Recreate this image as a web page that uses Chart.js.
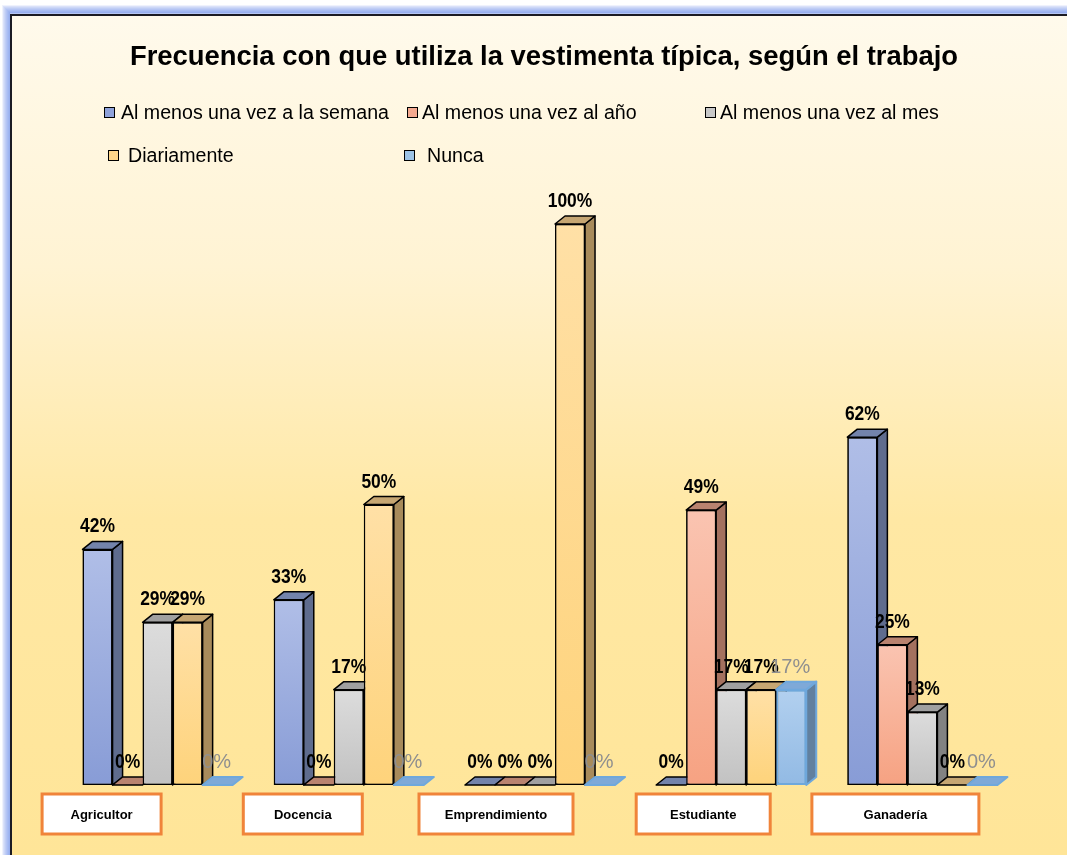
<!DOCTYPE html>
<html lang="es">
<head>
<meta charset="utf-8">
<title>Frecuencia con que utiliza la vestimenta típica</title>
<script src="https://cdn.jsdelivr.net/npm/chart.js@4.4.0/dist/chart.umd.min.js"></script>
<style>
  html, body { margin: 0; padding: 0; background: #fff; }
  canvas { display: block; }
</style>
</head>
<body>
<canvas id="graficoVestimenta" width="1067" height="855"></canvas>
<script>
// Datos (porcentajes)
const categorias = ['Agricultor', 'Docencia', 'Emprendimiento', 'Estudiante', 'Ganadería'];
const nombresSeries = [
    'Al menos una vez a la semana',
    'Al menos una vez al año',
    'Al menos una vez al mes',
    'Diariamente',
    'Nunca'
];
const semana = [42, 33, 0, 0, 62];
const anio = [0, 0, 0, 49, 25];
const mes = [29, 17, 0, 17, 13];
const diario = [29, 50, 100, 17, 0];
const nunca = [0, 0, 0, 17, 0];

// Colores de cada serie: frente (arriba/abajo), lado, tapa y borde
const estilos = [
    { arriba: '#B0BEE7', abajo: '#889CD6', lado: '#5F6C8E', tapa: '#7383AB', borde: '#000000', legenda: '#8FA2DA' },
    { arriba: '#FAC4B1', abajo: '#F6A282', lado: '#A4715F', tapa: '#B9836F', borde: '#000000', legenda: '#F5AA90' },
    { arriba: '#DCDCDC', abajo: '#C2C2C2', lado: '#828282', tapa: '#A0A0A0', borde: '#000000', legenda: '#C8C8C8' },
    { arriba: '#FFE0A6', abajo: '#FED37B', lado: '#A88B5B', tapa: '#C6A672', borde: '#000000', legenda: '#FFD68A' },
    { arriba: '#B2D0EF', abajo: '#92BAE4', lado: '#61809F', tapa: '#7EA9D8', borde: '#6FA8DC', legenda: '#9DC3E6' }
];

// Profundidad del efecto 3D
const PROF_X = 10;
const PROF_Y = 8;

// Posición de la leyenda: [x del cuadro, x del texto, y]
const posLeyenda = [[104, 121, 113], [407, 422, 113], [705, 720, 113], [108, 128, 156], [404, 427, 156]];
// Cajas de categoría: desplazamiento respecto al centro y ancho
const cajasCategoria = [
    { dx: -56, ancho: 119 },
    { dx: -46, ancho: 119 },
    { dx: -44, ancho: 154 },
    { dx: -28, ancho: 134 },
    { dx: -27, ancho: 167 }
];

// Degradado vertical propio de cada barra, calculado con la escala y
function degradadoBarra(context, est) {
    const chart = context.chart;
    if (!chart.chartArea || !chart.scales.y) return est.abajo;
    const escalaY = chart.scales.y;
    const tope = escalaY.getPixelForValue(context.raw);
    const base = escalaY.getPixelForValue(0);
    if (base - tope < 1) return est.abajo;
    const g = chart.ctx.createLinearGradient(0, tope, 0, base);
    g.addColorStop(0, est.arriba);
    g.addColorStop(1, est.abajo);
    return g;
}

// Fondo con marco
const pluginFondo = {
    id: 'fondo',
    beforeDraw(chart) {
        const ctx = chart.ctx;
        ctx.save();
        ctx.fillStyle = '#ffffff';
        ctx.fillRect(0, 0, chart.width, chart.height);
        // brillo azul alrededor del marco
        for (let i = 8; i >= 1; i--) {
            ctx.strokeStyle = `rgba(120, 150, 235, ${0.12 + (8 - i) * 0.06})`;
            ctx.lineWidth = 2;
            ctx.strokeRect(11 - i, 14 - i, chart.width + 40, chart.height + 40);
        }
        const g = ctx.createLinearGradient(0, 15, 0, chart.height);
        g.addColorStop(0, '#FFFAEC');
        g.addColorStop(0.3, '#FFF3D3');
        g.addColorStop(0.6, '#FFE8A4');
        g.addColorStop(1, '#FFE598');
        ctx.fillStyle = g;
        ctx.fillRect(11, 14, chart.width, chart.height);
        ctx.strokeStyle = '#1b1b24';
        ctx.lineWidth = 2;
        ctx.strokeRect(11, 15, chart.width + 20, chart.height + 20);
        ctx.restore();
    }
};

// Redibuja las barras de izquierda a derecha con sus caras lateral y superior
const plugin3D = {
    id: 'efecto3D',
    afterDatasetsDraw(chart) {
        const ctx = chart.ctx;
        ctx.save();
        ctx.lineJoin = 'round';
        chart.data.datasets.forEach((ds, i) => {
            const meta = chart.getDatasetMeta(i);
            const est = estilos[i];
            meta.data.forEach((barra) => {
                barra.draw(ctx);
                const { x, y, base, width } = barra.getProps(['x', 'y', 'base', 'width'], true);
                const x0 = x - width / 2;
                const x1 = x + width / 2;
                ctx.lineWidth = i === 4 ? 2 : 1.5;
                ctx.strokeStyle = est.borde;
                if (base - y > 0.5) {
                    // lado
                    ctx.beginPath();
                    ctx.moveTo(x1, y);
                    ctx.lineTo(x1 + PROF_X, y - PROF_Y);
                    ctx.lineTo(x1 + PROF_X, base - PROF_Y);
                    ctx.lineTo(x1, base);
                    ctx.closePath();
                    ctx.fillStyle = est.lado;
                    ctx.fill();
                    ctx.stroke();
                }
                // tapa
                ctx.beginPath();
                ctx.moveTo(x0, y);
                ctx.lineTo(x0 + PROF_X, y - PROF_Y);
                ctx.lineTo(x1 + PROF_X, y - PROF_Y);
                ctx.lineTo(x1, y);
                ctx.closePath();
                ctx.fillStyle = est.tapa;
                ctx.fill();
                ctx.stroke();
            });
        });
        ctx.restore();
    }
};

// Título, leyenda, etiquetas de datos y cajas de categoría
const pluginTextos = {
    id: 'textos',
    afterDraw(chart) {
        const ctx = chart.ctx;
        ctx.save();

        // Título
        ctx.fillStyle = '#000';
        ctx.font = 'bold 27.4px "Liberation Sans", Arial, sans-serif';
        ctx.textAlign = 'center';
        ctx.textBaseline = 'alphabetic';
        ctx.fillText('Frecuencia con que utiliza la vestimenta típica, según el trabajo', 544, 65);

        // Leyenda
        ctx.textAlign = 'left';
        ctx.textBaseline = 'middle';
        ctx.font = '19.6px "Liberation Sans", Arial, sans-serif';
        chart.data.datasets.forEach((ds, i) => {
            const [xc, xt, yc] = posLeyenda[i];
            ctx.fillStyle = estilos[i].legenda;
            ctx.fillRect(xc, yc - 6, 11, 11);
            ctx.strokeStyle = '#000';
            ctx.lineWidth = 1;
            ctx.strokeRect(xc + 0.5, yc - 5.5, 10, 10);
            ctx.fillStyle = '#000';
            ctx.fillText(ds.label, xt, yc + 1);
        });

        // Etiquetas de datos (las negras en letra estrecha)
        ctx.textAlign = 'center';
        ctx.textBaseline = 'alphabetic';
        chart.data.datasets.forEach((ds, i) => {
            const meta = chart.getDatasetMeta(i);
            meta.data.forEach((barra, j) => {
                const { x, y } = barra.getProps(['x', 'y'], true);
                const texto = Math.round(ds.data[j]) + '%';
                if (i === 4) {
                    ctx.font = '20px "Liberation Sans", Arial, sans-serif';
                    ctx.fillStyle = '#8F8F8F';
                    ctx.fillText(texto, x - 1, y - 17);
                } else {
                    ctx.save();
                    ctx.font = 'bold 21px "Liberation Sans", Arial, sans-serif';
                    ctx.fillStyle = '#000';
                    ctx.translate(x, y - 17);
                    ctx.scale(0.83, 1);
                    ctx.fillText(texto, 0, 0);
                    ctx.restore();
                }
            });
        });

        // Cajas de categoría
        const escalaX = chart.scales.x;
        const base = chart.scales.y.getPixelForValue(0);
        ctx.font = 'bold 13px "Liberation Sans", Arial, sans-serif';
        ctx.textBaseline = 'middle';
        categorias.forEach((cat, i) => {
            const cx = escalaX.getPixelForValue(i) + cajasCategoria[i].dx;
            const ancho = cajasCategoria[i].ancho;
            const top = base + 9;
            ctx.fillStyle = '#ffffff';
            ctx.fillRect(cx - ancho / 2, top, ancho, 40);
            ctx.strokeStyle = '#F0843A';
            ctx.lineWidth = 3;
            ctx.strokeRect(cx - ancho / 2, top, ancho, 40);
            ctx.fillStyle = '#000';
            ctx.fillText(cat, cx, top + 21);
        });

        ctx.restore();
    }
};

function mostrarGrafico() {
    const valores = [semana, anio, mes, diario, nunca];
    const ctx = document.getElementById('graficoVestimenta').getContext('2d');
    new Chart(ctx, {
        type: 'bar',
        data: {
            labels: categorias,
            datasets: valores.map((serie, i) => ({
                label: nombresSeries[i],
                data: serie,
                backgroundColor: (context) => degradadoBarra(context, estilos[i]),
                borderColor: estilos[i].borde,
                borderWidth: i === 4 ? 2 : 1.5,
                borderSkipped: false,
                categoryPercentage: 0.785,
                barPercentage: 1,
                clip: false
            }))
        },
        options: {
            responsive: false,
            animation: false,
            layout: {
                padding: { left: 62, right: 49, top: 224, bottom: 70 }
            },
            plugins: {
                legend: { display: false },
                title: { display: false },
                tooltip: { enabled: false }
            },
            scales: {
                x: { display: false },
                y: { display: false, min: 0, max: 100 }
            }
        },
        plugins: [pluginFondo, plugin3D, pluginTextos]
    });
}

document.addEventListener('DOMContentLoaded', mostrarGrafico);
</script>
</body>
</html>
